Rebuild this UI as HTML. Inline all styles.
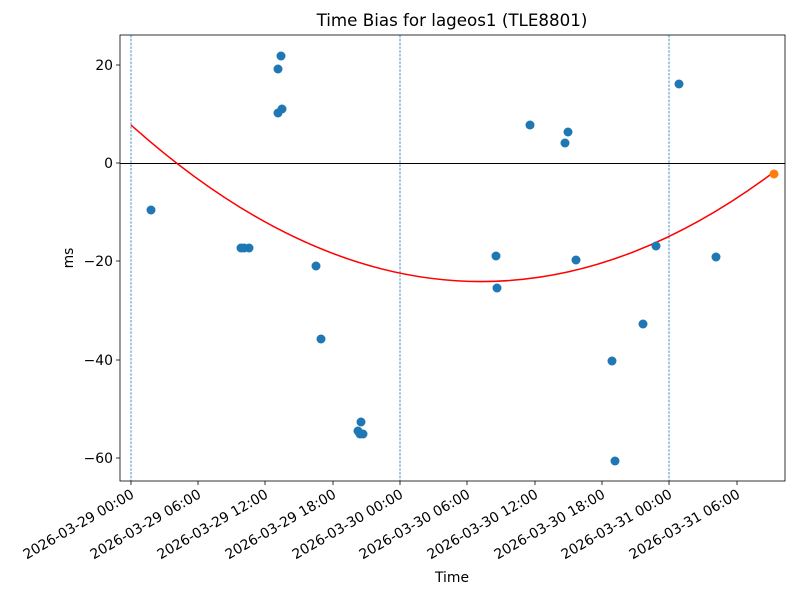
<!DOCTYPE html>
<html><head><meta charset="utf-8"><style>
html,body{margin:0;padding:0;background:#fff;}
svg{display:block;font-family:"DejaVu Sans","Liberation Sans",sans-serif;}
</style></head><body>
<svg width="800" height="600" viewBox="0 0 800 600" xmlns="http://www.w3.org/2000/svg">
<rect width="800" height="600" fill="#fff"/>
<text x="452" y="26" font-size="16.7" text-anchor="middle" fill="#000">Time Bias for lageos1 (TLE8801)</text>
<g stroke="#1f77b4" stroke-width="0.8" stroke-dasharray="2.5,1.3">
<line x1="131" y1="35" x2="131" y2="481"/>
<line x1="400" y1="35" x2="400" y2="481"/>
<line x1="669" y1="35" x2="669" y2="481"/>
</g>
<line x1="120" y1="163.5" x2="785" y2="163.5" stroke="#000" stroke-width="1"/>
<path d="M131,125 Q452.5,412.5 774,172" fill="none" stroke="#ff0000" stroke-width="1.5"/>
<g fill="#1f77b4">
<circle cx="151" cy="210" r="4.5"/><circle cx="241" cy="248" r="4.5"/><circle cx="244" cy="248" r="4.5"/><circle cx="249" cy="248" r="4.5"/>
<circle cx="278" cy="69" r="4.5"/><circle cx="281" cy="56" r="4.5"/><circle cx="278" cy="113" r="4.5"/><circle cx="282" cy="109" r="4.5"/>
<circle cx="316" cy="266" r="4.5"/><circle cx="321" cy="339" r="4.5"/><circle cx="358" cy="431" r="4.5"/><circle cx="361" cy="422" r="4.5"/>
<circle cx="360" cy="434" r="4.5"/><circle cx="363" cy="434" r="4.5"/><circle cx="496" cy="256" r="4.5"/><circle cx="497" cy="288" r="4.5"/>
<circle cx="530" cy="125" r="4.5"/><circle cx="565" cy="143" r="4.5"/><circle cx="568" cy="132" r="4.5"/><circle cx="576" cy="260" r="4.5"/>
<circle cx="612" cy="361" r="4.5"/><circle cx="615" cy="461" r="4.5"/><circle cx="643" cy="324" r="4.5"/><circle cx="656" cy="246" r="4.5"/>
<circle cx="679" cy="84" r="4.5"/><circle cx="716" cy="257" r="4.5"/>
</g>
<circle cx="774" cy="174" r="4.5" fill="#ff7f0e"/>
<rect x="120" y="35" width="665" height="446" fill="none" stroke="#000" stroke-width="0.8"/>
<g stroke="#000" stroke-width="0.8">
<line x1="116" y1="65" x2="120" y2="65"/><line x1="116" y1="163" x2="120" y2="163"/>
<line x1="116" y1="261" x2="120" y2="261"/><line x1="116" y1="360" x2="120" y2="360"/><line x1="116" y1="458" x2="120" y2="458"/>
<line x1="131" y1="481" x2="131" y2="485"/><line x1="198" y1="481" x2="198" y2="485"/><line x1="265" y1="481" x2="265" y2="485"/>
<line x1="333" y1="481" x2="333" y2="485"/><line x1="400" y1="481" x2="400" y2="485"/><line x1="467" y1="481" x2="467" y2="485"/>
<line x1="535" y1="481" x2="535" y2="485"/><line x1="602" y1="481" x2="602" y2="485"/><line x1="669" y1="481" x2="669" y2="485"/>
<line x1="737" y1="481" x2="737" y2="485"/>
</g>
<g font-size="13.9" text-anchor="end" fill="#000">
<text x="113" y="70">20</text><text x="113" y="168">0</text><text x="113" y="266">−20</text>
<text x="113" y="365">−40</text><text x="113" y="463">−60</text>
</g>
<g font-size="13.9" text-anchor="end" fill="#000">
<text transform="translate(135,497) rotate(-30)">2026-03-29 00:00</text>
<text transform="translate(202,497) rotate(-30)">2026-03-29 06:00</text>
<text transform="translate(269,497) rotate(-30)">2026-03-29 12:00</text>
<text transform="translate(337,497) rotate(-30)">2026-03-29 18:00</text>
<text transform="translate(404,497) rotate(-30)">2026-03-30 00:00</text>
<text transform="translate(471,497) rotate(-30)">2026-03-30 06:00</text>
<text transform="translate(539,497) rotate(-30)">2026-03-30 12:00</text>
<text transform="translate(606,497) rotate(-30)">2026-03-30 18:00</text>
<text transform="translate(673,497) rotate(-30)">2026-03-31 00:00</text>
<text transform="translate(741,497) rotate(-30)">2026-03-31 06:00</text>
</g>
<text x="452" y="582" font-size="13.9" text-anchor="middle">Time</text>
<text transform="translate(73,258) rotate(-90)" font-size="13.9" text-anchor="middle">ms</text>
</svg>
</body></html>
